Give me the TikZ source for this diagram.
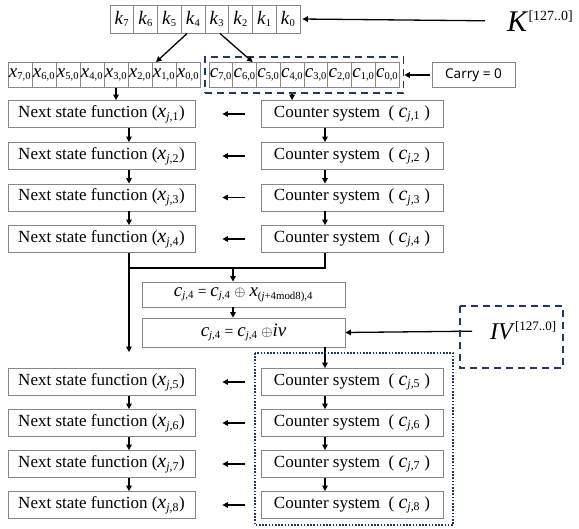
\documentclass[tikz,border=0pt]{standalone}
\usepackage{fontspec}
\setmainfont{Liberation Serif}
\newfontfamily\carryfont{Noto Sans}
\usepackage{tikz}
\usetikzlibrary{arrows.meta,fit}
\definecolor{navyblue}{RGB}{31, 56, 100}
\definecolor{boxgray}{RGB}{135, 135, 135}
\newcommand{\vsub}[2]{{\fontsize{19}{19}\selectfont\textit{#1}}\textsubscript{#2}}
\newcommand{\vbig}[2]{{\fontsize{20}{20}\selectfont\textit{#1}}\textsubscript{#2}}
\tikzset{
  box/.style={draw=boxgray, line width=0.8pt, minimum height=27pt, inner sep=0pt, font=\fontsize{15.5}{18}\selectfont},
  nsbox/.style={box, minimum width=187pt, font=\fontsize{17}{20}\selectfont},
  csbox/.style={box, minimum width=182pt, font=\fontsize{17}{20}\selectfont},
  cell/.style={draw=boxgray, line width=0.8pt, minimum height=25pt, inner sep=0pt, font=\fontsize{15}{18}\selectfont},
  arr/.style={-{Triangle[length=5.5pt,width=5.5pt]}, line width=1.3pt},
  navydash/.style={draw=navyblue, line width=1.8pt, dash pattern=on 7pt off 5pt},
  navydot/.style={draw=navyblue, line width=1.6pt, dash pattern=on 1.6pt off 1.6pt}
}
\begin{document}
\begin{tikzpicture}[x=1pt, y=-1pt]
            \useasboundingbox (0,0) rectangle (579,529);
            % Key and its words
            \foreach \i [count=\n] in {7,...,0}
              \node[cell, minimum width=23.75pt, minimum height=28pt] (k\i) at ({110+23.75*(\n-0.5)}, 19) {\vsub{k}{\i}};
            \node[anchor=west, inner sep=0pt] (key) at (507, 21)
              {{\fontsize{30}{30}\selectfont\textit{K}}\raisebox{11pt}{\fontsize{14}{14}\selectfont[127..0]}};
            \draw[arr, shorten <=22pt, shorten >=2pt] (key.west) -- (k0.east);
            % State and counter words
            \foreach \i [count=\n] in {7,...,0}
              \node[cell, minimum width=24pt] (x\i) at ({8+24*(\n-0.5)}, 75) {\vsub{x}{\i,0}};
            \foreach \i [count=\n] in {7,...,0}
              \node[cell, minimum width=23.75pt] (c\i) at ({209+23.75*(\n-0.5)}, 75) {\vsub{c}{\i,0}};
            \node[navydash, fit=(c7)(c0), inner xsep=4pt, inner ysep=5pt] (cfrm) {};
            \node[box, minimum width=83pt, minimum height=25pt, font=\carryfont\fontsize{13.5}{16}\selectfont] (carry) at (473.5, 75) {Carry = 0};
            \draw[arr, shorten <=2pt] (carry.west) -- (cfrm.east);
            \draw[arr] ([xshift=-6pt]k4.south) -- ([xshift=-8pt]x1.north);
            \draw[arr] ([xshift=3pt]k3.south) -- ([xshift=8pt]c6.north);
            % Rounds
            \foreach \i/\y in {1/114, 2/156, 3/197.5, 4/239, 5/382, 6/423, 7/464, 8/505} {
              \node[nsbox] (ns\i) at (101.5, \y) {Next state function (\vbig{x}{\textit{j},\i})};
              \node[csbox] (cs\i) at (352, \y) {Counter system\ \ ( \vbig{c}{\textit{j},\i} )};
              \draw[arr, shorten <=16pt, shorten >=27pt] (cs\i.west) -- (ns\i.east);
            }
            \coordinate (nsx) at (129, 0);
            \coordinate (csx) at (325, 0);
            \draw[arr] (x3.south) -- (ns1.north -| x3);
            \draw[arr] (cfrm.south -| c4) -- (cs1.north -| c4);
            \foreach \i in {1,2,3,5,6,7} {
              \pgfmathtruncatemacro\j{\i+1}
              \draw[arr] (ns\i.south -| nsx) -- (ns\j.north -| nsx);
              \draw[arr] (cs\i.south -| csx) -- (cs\j.north -| csx);
            }
            % Mixing
            \node[box, minimum width=203pt, minimum height=25pt] (xorx) at (243.5, 294.5)
              {\vsub{c}{\textit{j},4} = \vsub{c}{\textit{j},4} $\oplus$ \vsub{x}{(\textit{j}+4mod8),4}};
            \node[box, minimum width=203pt, minimum height=29pt] (xoriv) at (243.5, 332.5)
              {\vsub{c}{\textit{j},4} = \vsub{c}{\textit{j},4} $\oplus${\fontsize{19}{19}\selectfont\textit{iv}}};
            \coordinate (mrg) at (233, 268);
            \draw[line width=1.3pt] (ns4.south -| nsx) -- (mrg -| nsx) -- (mrg -| csx) -- (cs4.south -| csx);
            \draw[arr, shorten >=16pt] (ns4.south -| nsx) -- (ns5.north -| nsx);
            \draw[arr] (mrg) -- (xorx.north -| mrg);
            \draw[arr] (xorx.south -| mrg) -- (xoriv.north -| mrg);
            \draw[arr] (xoriv.south -| csx) -- (cs5.north -| csx);
            % IV
            \node[anchor=west, inner sep=0pt] (iv) at (490, 331)
              {{\fontsize{24}{24}\selectfont\textit{IV}}\raisebox{9pt}{\fontsize{13}{13}\selectfont[127..0]}};
            \draw[arr, shorten <=18pt] (iv.west) -- (xoriv.east);
            \draw[navydash] (460, 306) rectangle (563, 368);
            % Frame of the later rounds
            \draw[navydot] (255, 353) rectangle (453, 525);
        \end{tikzpicture}
\end{document}
